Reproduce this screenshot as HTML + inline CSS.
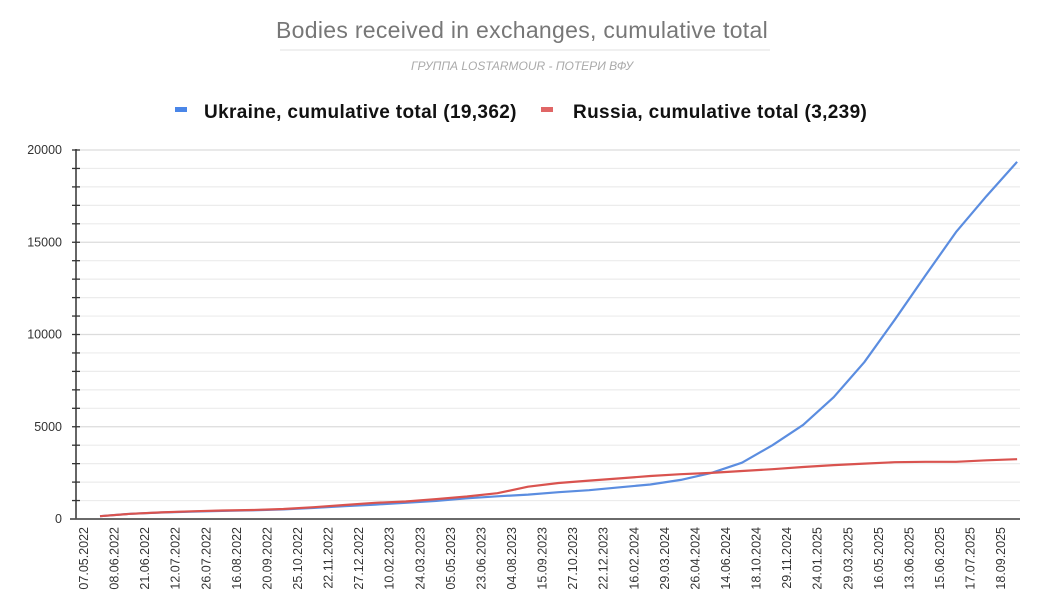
<!DOCTYPE html>
<html><head><meta charset="utf-8"><style>
body{margin:0;background:#fff;}
svg{display:block;font-family:"Liberation Sans","Noto Sans CJK SC",sans-serif;}
</style></head><body>
<svg id="chart" width="1045" height="610" viewBox="0 0 1045 610" xmlns="http://www.w3.org/2000/svg">
<rect width="1045" height="610" fill="#fff"/>
<text x="522" y="38" text-anchor="middle" font-size="23" letter-spacing="0.3" fill="#777">Bodies received in exchanges, cumulative total</text>
<line x1="280" y1="50" x2="770" y2="50" stroke="#f0f0f0" stroke-width="2"/>
<text x="522" y="70" text-anchor="middle" font-size="12" font-style="italic" fill="#aaa">ГРУППА LOSTARMOUR - ПОТЕРИ ВФУ</text>
<g>
<g><rect x="175" y="107" width="12" height="5" fill="#4a86e8"/><text x="204" y="118" font-size="19" fill="#111" font-weight="bold" letter-spacing="0.35">Ukraine, cumulative total (19,362)</text></g>
<g><rect x="541" y="107" width="12" height="5" fill="#e06666"/><text x="573" y="118" font-size="19" fill="#111" font-weight="bold" letter-spacing="0.35">Russia, cumulative total (3,239)</text></g>
</g>
<g id="grid"></g><g id="axes"></g><g id="series"></g>
</svg>
<script>
const categories=["07.05.2022","08.06.2022","21.06.2022","12.07.2022","26.07.2022","16.08.2022","20.09.2022","25.10.2022","22.11.2022","27.12.2022","10.02.2023","24.03.2023","05.05.2023","23.06.2023","04.08.2023","15.09.2023","27.10.2023","22.12.2023","16.02.2024","29.03.2024","26.04.2024","14.06.2024","18.10.2024","29.11.2024","24.01.2025","29.03.2025","16.05.2025","13.06.2025","15.06.2025","17.07.2025","18.09.2025"];
const ukraine=[150,280,350,400,440,470,520,600,700,780,880,980,1120,1230,1320,1450,1560,1720,1870,2120,2500,3050,4000,5100,6600,8500,10800,13200,15550,17500,19362];
const russia=[150,280,360,420,460,490,540,640,760,880,950,1080,1220,1400,1750,1950,2080,2200,2330,2430,2500,2600,2700,2820,2920,3000,3080,3100,3100,3180,3239];
const yTicks=[0,5000,10000,15000,20000];
const NS="http://www.w3.org/2000/svg";
const x0=76,x1=1020,yBase=519,yTop=150,yMax=20000;
function y(v){return yBase-(v/yMax)*(yBase-yTop);}
const step=30.57;
function xLabel(i){return 84+i*step;}
function xPoint(i){return 100+i*step;}
function mk(tag,attrs,parent){const e=document.createElementNS(NS,tag);for(const k in attrs)e.setAttribute(k,attrs[k]);parent.appendChild(e);return e;}
const grid=document.getElementById('grid'),axes=document.getElementById('axes'),series=document.getElementById('series');
for(let v=1000;v<=yMax;v+=1000){
  const l=mk('line',{x1:x0+4,x2:x1,y1:y(v),y2:y(v),stroke:v%5000===0?'#dcdcdc':'#ececec','stroke-width':1.2},grid);
  
  
  const t=mk('line',{x1:x0-4,x2:x0+4,y1:y(v),y2:y(v),stroke:'#333','stroke-width':1.3},axes);
  
  
}
const ya=mk('line',{x1:x0,x2:x0,y1:y(yMax)-1,y2:yBase,stroke:'#333','stroke-width':1.5},axes);


const xa=mk('line',{x1:x0-6,x2:x1,y1:yBase,y2:yBase,stroke:'#555','stroke-width':1.8},axes);


yTicks.forEach(v=>{
  const t=mk('text',{x:x0-14,y:y(v)+4,'text-anchor':'end','font-size':12.5,fill:'#333'},axes);
  t.textContent=v;
  
  
});
categories.forEach((c,i)=>{
  const xx=xLabel(i)+4,yy=527;
  const t=mk('text',{x:xx,y:yy,'text-anchor':'end','font-size':12.5,fill:'#333',transform:`rotate(-90 ${xx} ${yy})`},axes);
  t.textContent=c;
  
  
});
function line(data,color,name){
  const d=data.map((v,i)=>(i?'L':'M')+xPoint(i).toFixed(1)+','+y(v).toFixed(1)).join(' ');
  const p=mk('path',{d:d,fill:'none',stroke:color,'stroke-width':2.2,'stroke-linejoin':'round'},series);
  
  
}
line(ukraine,'#5b8de0','ukraine-line');
line(russia,'#d9534f','russia-line');
</script>
</body></html>
